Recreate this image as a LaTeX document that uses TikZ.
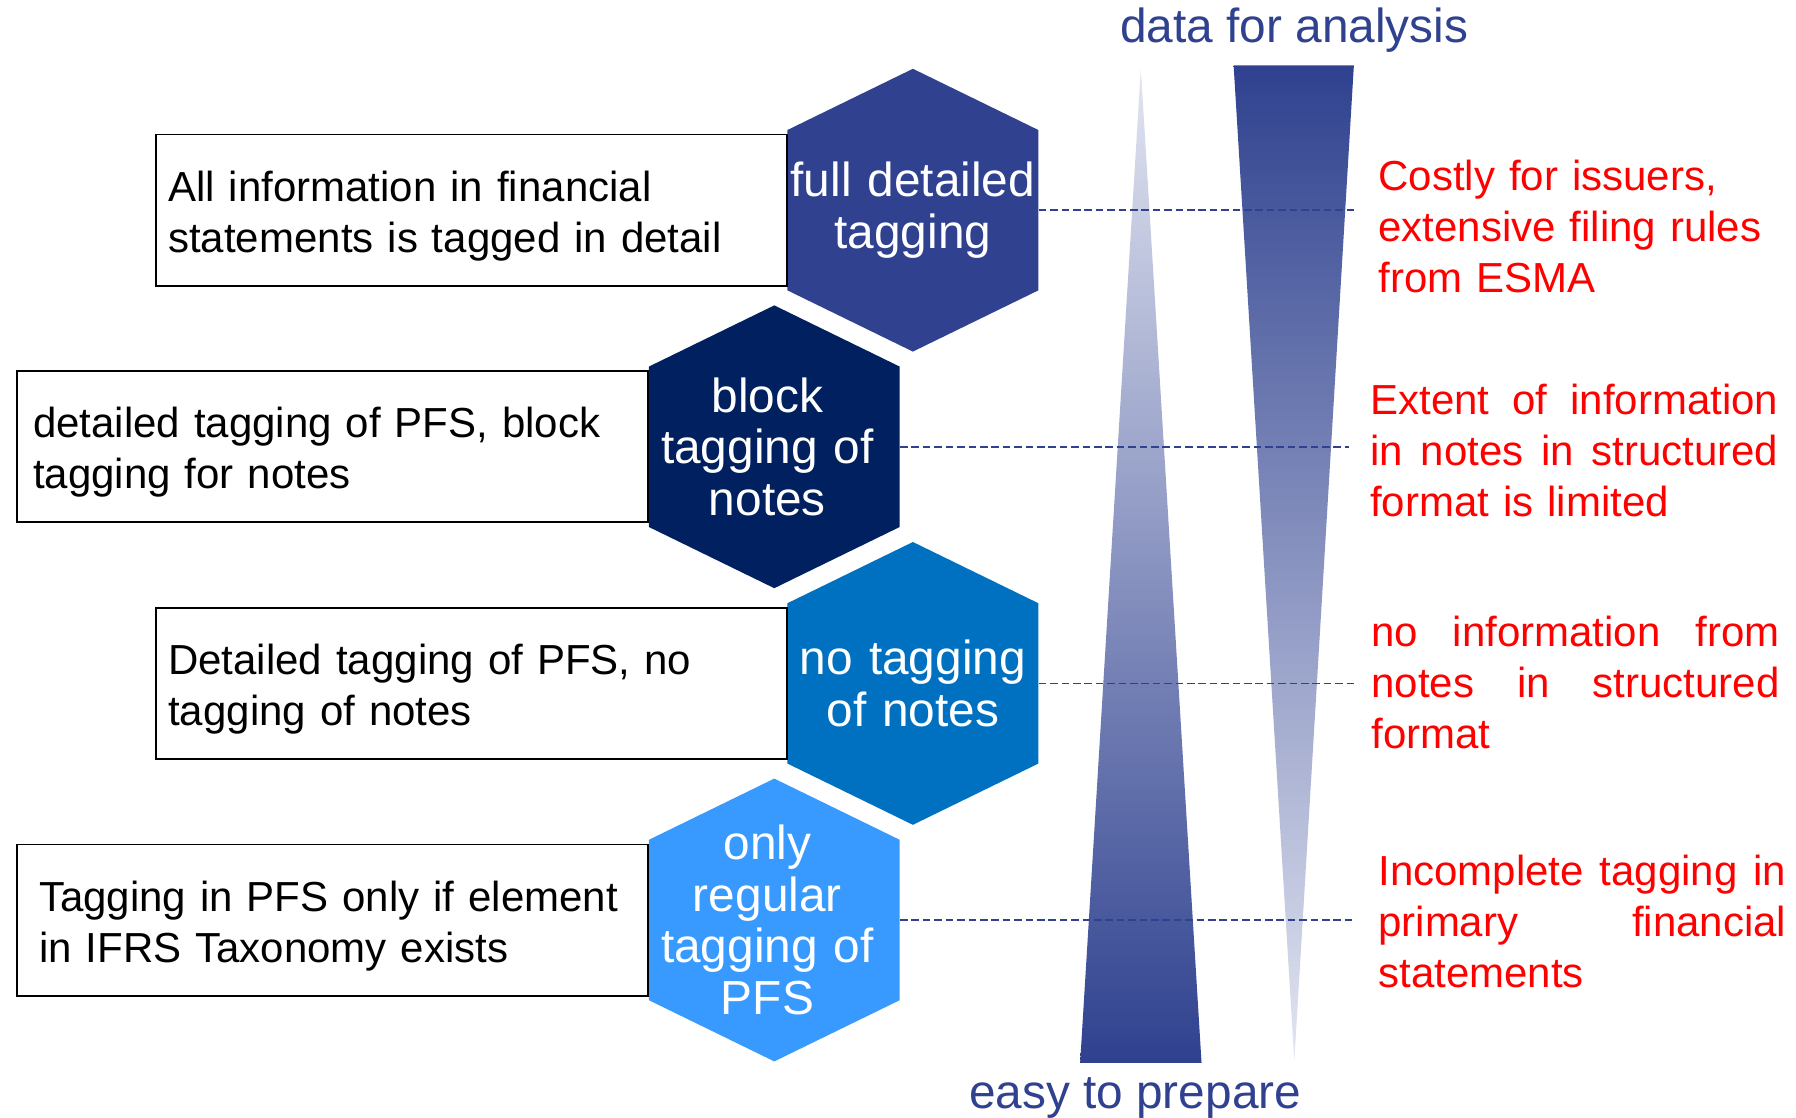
\documentclass[tikz,border=0pt]{standalone}
\usepackage{fontspec}
\setmainfont{Liberation Sans}
\usetikzlibrary{positioning}
\usetikzlibrary{backgrounds}

\definecolor{esmablue}{RGB}{47,65,143}
\definecolor{hexnavy}{RGB}{0,32,96}
\definecolor{hexmid}{RGB}{0,112,192}
\definecolor{hexlight}{RGB}{56,154,255}
\definecolor{wedgepale}{RGB}{226,229,241}
\newdimen\notewidth
\notewidth=204pt

% hexagon behind a tagging node
\newcommand{\hexfill}[2]{%
  \fill[#2] ([yshift=70.7pt]#1.center)
    -- ([shift={(62.7pt,40.1pt)}]#1.center)
    -- ([shift={(62.7pt,-40.1pt)}]#1.center)
    -- ([yshift=-70.7pt]#1.center)
    -- ([shift={(-62.7pt,-40.1pt)}]#1.center)
    -- ([shift={(-62.7pt,40.1pt)}]#1.center) -- cycle;}

\begin{document}
\begin{tikzpicture}
    [
    x=0.5727pt, y=-0.5727pt,
    node distance=118.3pt and 69.3pt,
    on grid,
    tagging/.style={minimum width=125.4pt, minimum height=141.4pt, inner sep=0pt,
      text width=125pt, align=center, text=white,
      font=\fontsize{23.9pt}{25.9pt}\selectfont},
    lean/.style={execute at begin node={\leftskip=0pt plus 2em\rightskip=6.9pt plus 2em}},
    infobox/.style={draw=black, line width=0.9pt, fill=white, minimum width=315.6pt,
      minimum height=75.6pt, inner xsep=6.3pt, text width=303pt, align=left,
      font=\fontsize{21pt}{25.5pt}\selectfont,
      execute at begin node={\rule{0pt}{21pt}}},
    note/.style={anchor=base west, inner sep=0pt, text width=\notewidth, align=left,
      text=red, font=\fontsize{21pt}{25.5pt}\selectfont},
    axislabel/.style={anchor=base, inner sep=0pt, text=esmablue,
      font=\fontsize{23.9pt}{25.9pt}\selectfont},
    leader/.style={esmablue, line width=0.8pt, dash pattern=on 3.8pt off 1.9pt},
    ]
    \useasboundingbox (0,0) rectangle (1568,976);

    % the two wedges
    \shade[top color=wedgepale, bottom color=esmablue] (943,928) -- (996,60) -- (1049,928) -- cycle;
    \shade[top color=esmablue, bottom color=wedgepale] (1077,57) -- (1182,57) -- (1130,926) -- cycle;
    \node[axislabel] (lbl_data) at (1130,37) {data for analysis};
    \node[axislabel] (lbl_easy) at (991,968) {easy to prepare};

    \node[tagging] (hex_full) at (797,183.5) {full detailed\\tagging};
    \node[tagging, lean, below left = of hex_full] (hex_block) {block\\tagging of\\notes};
    \node[tagging, below right = of hex_block] (hex_none) {no tagging\\of notes};
    \node[tagging, lean, below left = of hex_none] (hex_regular) {only\\regular\\tagging of\\PFS};

    \begin{scope}[on background layer]
        \hexfill{hex_full}{esmablue}
        \hexfill{hex_block}{hexnavy}
        \hexfill{hex_none}{hexmid}
        \hexfill{hex_regular}{hexlight}
    \end{scope}

    \node[infobox, left = 220.8pt of hex_full] (box_full)
    {All information in financial\\statements is tagged in detail};
    \node[infobox, left = 220.8pt of hex_block, inner xsep=8pt, text width=299.6pt] (box_block)
    {detailed tagging of PFS, block\\tagging for notes};
    \node[infobox, left = 220.8pt of hex_none] (box_none)
    {Detailed tagging of PFS, no\\tagging of notes};
    \node[infobox, left = 220.8pt of hex_regular, inner xsep=11pt, text width=293.6pt] (box_regular)
    {\mbox{Tagging in PFS only if element}\\in IFRS Taxonomy exists};

    % dashed leaders out to the notes
    \coordinate (rim_full) at (1185,183);
    \coordinate (rim_block) at (1178,388);
    \coordinate (rim_none) at (1185,598);
    \coordinate (rim_regular) at (1182,802);
    \draw[leader] (hex_full.east) -- (hex_full.east -| rim_full);
    \draw[leader] (hex_block.east) -- (hex_block.east -| rim_block);
    \draw[leader] (hex_none.east) -- (hex_none.east -| rim_none);
    \draw[leader] (hex_regular.east) -- (hex_regular.east -| rim_regular);

    \node[note] (note_full) at (1203,166)
    {Costly for issuers,\\extensive filing rules\\from ESMA};
    \node[note] (note_block) at (1196,362)
    {\makebox[\notewidth][s]{Extent\hfill of\hfill information}\\\makebox[\notewidth][s]{in\hfill notes\hfill in\hfill structured}\\format is limited};
    \node[note] (note_none) at (1197,564)
    {\makebox[\notewidth][s]{no\hfill information\hfill from}\\\makebox[\notewidth][s]{notes\hfill in\hfill structured}\\format};
    \node[note] (note_regular) at (1203,773)
    {\makebox[\notewidth][s]{Incomplete\hfill tagging\hfill in}\\\makebox[\notewidth][s]{primary\hfill financial}\\statements};
\end{tikzpicture}
\end{document}
